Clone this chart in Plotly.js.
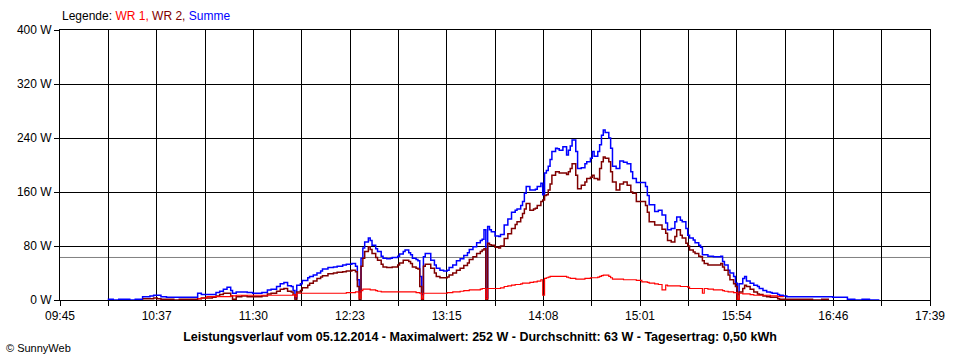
<!DOCTYPE html>
<html>
<head>
<meta charset="utf-8">
<script src="https://cdn.plot.ly/plotly-3.0.1.min.js"></script>
<style>
  html, body { margin: 0; padding: 0; background: #ffffff; }
  #chart { width: 960px; height: 360px; }
</style>
</head>
<body>
<div id="chart"></div>
<script>
// ---- data ----
const times = [
  "10:11","10:14","10:17","10:20","10:23","10:26","10:29","10:30","10:32","10:34",
  "10:36","10:38","10:40","10:43","10:47","10:50","10:54","10:59","11:00","11:02",
  "11:05","11:08","11:10","11:12","11:14","11:16","11:18","11:19","11:21","11:24",
  "11:27","11:30","11:32","11:35","11:38","11:40","11:43","11:45","11:47","11:49",
  "11:51","11:52","11:53","11:54","11:56","11:57","12:00","12:01","12:03","12:05",
  "12:07","12:08","12:11","12:14","12:16","12:19","12:21","12:24","12:26","12:27",
  "12:28","12:29","12:30","12:31","12:33","12:34","12:35","12:37","12:38","12:40",
  "12:41","12:43","12:45","12:46","12:49","12:50","12:52","12:53","12:55","12:56",
  "12:57","12:59","13:00","13:01","13:02","13:03","13:04","13:07","13:09","13:10",
  "13:12","13:14","13:16","13:17","13:19","13:21","13:23","13:25","13:27","13:28",
  "13:30","13:32","13:34","13:35","13:36","13:37","13:38","13:39","13:40","13:42",
  "13:44","13:45","13:47","13:49","13:51","13:53","13:54","13:56","13:57","13:58",
  "13:59","14:01","14:03","14:04","14:05","14:07","14:08","14:09","14:10","14:11",
  "14:12","14:13","14:15","14:16","14:17","14:19","14:21","14:22","14:23","14:24",
  "14:26","14:27","14:29","14:31","14:32","14:34","14:35","14:36","14:38","14:39",
  "14:40","14:41","14:42","14:44","14:45","14:46","14:48","14:50","14:52","14:54",
  "14:56","14:57","14:59","15:02","15:04","15:05","15:06","15:09","15:11","15:13",
  "15:15","15:16","15:18","15:20","15:21","15:23","15:24","15:26","15:27","15:28",
  "15:30","15:31","15:33","15:34","15:35","15:36","15:38","15:39","15:41","15:43",
  "15:45","15:46","15:47","15:49","15:50","15:52","15:53","15:54","15:55","15:57",
  "15:58","15:59","16:01","16:03","16:05","16:06","16:08","16:10","16:12","16:13",
  "16:16","16:17","16:19","16:21","16:27","16:35","16:40","16:44","16:46","16:50",
  "16:54","16:58","17:02","17:06","17:11"
];
const wr1 = [
  null,null,null,null,null,null,null,null,null,null,
  null,null,null,null,null,null,null,null,2,3,
  5,5,5,5,5,5,6,6,7,7,
  7,7,7,7,7,7,7,7,7,7,
  7,8,5,10,10,10,10,10,10,10,
  10,10,10,10,10,10,11,11,12,12,
  3,14,16,16,16,15,15,14,13,12,
  12,12,12,12,12,12,12,12,12,12,
  12,11,11,10,2,10,10,10,10,10,
  10,10,11,11,12,12,13,14,14,15,
  15,15,16,17,17,2,17,17,17,17,
  17,18,20,21,22,23,23,24,25,25,
  25,26,27,27,28,30,7,32,33,34,
  35,35,35,35,35,35,34,33,32,32,
  31,31,31,32,32,33,33,33,34,35,
  36,37,37,35,33,31,31,31,30,30,
  30,30,29,27,27,26,25,24,23,15,
  22,21,21,21,21,20,20,20,19,17,
  17,17,17,17,10,17,16,16,15,15,
  15,14,13,12,12,11,11,1,10,9,
  9,9,8,7,7,7,7,7,6,6,
  5,5,4,null,null,null,null,null,null,null,
  null,null,null,null,null
];
const wr2 = [
  null,null,null,null,null,null,null,2,2,2,
  3,2,1,1,0,1,1,1,2,3,
  3,4,6,8,10,10,6,1,5,6,
  5,5,5,6,9,10,13,16,17,13,
  12,8,0,12,14,18,22,25,28,32,
  34,36,39,40,41,42,43,44,42,20,
  0,50,62,72,79,75,69,63,59,53,
  49,48,48,49,52,55,59,59,57,54,
  49,47,46,20,0,50,53,47,40,35,
  33,33,34,37,40,44,47,51,55,60,
  64,69,72,74,76,0,84,82,81,78,
  77,80,91,98,106,112,116,122,128,135,
  143,133,135,136,140,146,148,155,156,163,
  172,185,190,190,188,188,186,190,195,202,
  185,165,170,175,180,182,185,180,178,195,
  205,212,210,205,190,175,163,172,175,170,
  160,158,146,146,140,130,116,111,111,105,
  99,88,86,94,104,96,92,84,80,74,
  71,69,65,64,58,54,52,52,52,52,
  54,49,44,37,30,24,20,0,12,17,
  22,20,16,12,9,8,6,5,4,4,
  2,1,1,1,1,0,1,1,null,null,
  null,null,null,null,null
];
const summe = [
  1,0,1,1,0,1,1,5,5,6,
  7,7,5,4,4,4,4,4,10,8,
  8,8,11,13,16,19,14,10,12,12,
  11,10,10,11,15,16,20,24,26,21,
  20,14,3,22,24,29,33,35,37,40,
  43,46,48,49,50,52,53,54,50,30,
  12,62,77,86,92,88,81,76,72,65,
  62,61,62,63,65,68,72,74,70,67,
  62,60,58,35,8,64,69,59,52,47,
  44,43,44,48,52,58,61,66,70,75,
  79,85,88,90,104,3,109,104,101,95,
  94,97,111,120,130,133,135,140,146,158,
  168,163,163,164,168,173,156,188,192,198,
  208,220,225,224,222,227,215,222,228,237,
  220,195,196,202,205,210,220,213,220,230,
  244,252,248,240,225,198,195,206,204,202,
  190,180,174,174,168,155,141,131,133,126,
  114,104,106,116,123,118,116,106,96,92,
  89,85,81,78,67,67,65,65,64,64,
  65,57,52,44,40,35,25,8,24,32,
  35,28,25,22,20,17,14,12,11,10,
  8,7,6,5,5,5,5,5,4,4,
  1,0,1,0,1
];
const xTickLabels = ["09:45","10:37","11:30","12:23","13:15","14:08","15:01","15:54","16:46","17:39"];
const yTickValues = [0, 80, 160, 240, 320, 400];
const averageW = 63;
const seriesNames = ["WR 1", "WR 2", "Summe"];
const titleText = "Leistungsverlauf vom 05.12.2014 - Maximalwert: 252 W - Durchschnitt: 63 W - Tagesertrag: 0,50 kWh";
const creditText = "© SunnyWeb";

// ---- drawing ----
const toMin = s => { const p = s.split(":"); return (+p[0]) * 60 + (+p[1]); };
const x = times.map(toMin);
const xStart = toMin(xTickLabels[0]);
const xEnd = toMin(xTickLabels[xTickLabels.length - 1]);
const nSeg = (xTickLabels.length - 1) * 2;
const tickvals = [], ticktext = [];
for (let k = 0; k <= nSeg; k++) {
  tickvals.push(xStart + (xEnd - xStart) * k / nSeg);
  ticktext.push(k % 2 === 0 ? xTickLabels[k / 2] : "");
}

const FONT = "'Liberation Sans', Arial, sans-serif";
const colors = { wr1: "#ff0000", wr2: "#800000", summe: "#0000ff" };

const traces = [
  { x: x, y: summe, name: seriesNames[2], type: "scatter", mode: "lines",
    line: { color: colors.summe, width: 1.5, shape: "hv" }, connectgaps: false },
  { x: x, y: wr2, name: seriesNames[1], type: "scatter", mode: "lines",
    line: { color: colors.wr2, width: 1.5, shape: "hv" }, connectgaps: false },
  { x: x, y: wr1, name: seriesNames[0], type: "scatter", mode: "lines",
    line: { color: colors.wr1, width: 1.2, shape: "hv" }, connectgaps: false }
];

const legendHtml = "Legende: " +
  "<span style='color:" + colors.wr1 + "'>" + seriesNames[0] + ",</span> " +
  "<span style='color:" + colors.wr2 + "'>" + seriesNames[1] + ",</span> " +
  "<span style='color:" + colors.summe + "'>" + seriesNames[2] + "</span>";

const layout = {
  width: 960, height: 360,
  margin: { l: 60, r: 30, t: 30, b: 60 },
  paper_bgcolor: "#ffffff", plot_bgcolor: "#ffffff",
  showlegend: false,
  font: { family: FONT, size: 12, color: "#000000" },
  title: {
    text: "<b>" + titleText + "</b>",
    font: { family: FONT, size: 12.5, color: "#000000" },
    xref: "container", x: 0.5, xanchor: "center",
    yref: "container", y: 1 - 337 / 360, yanchor: "middle"
  },
  xaxis: {
    range: [xStart, xEnd], tickmode: "array", tickvals: tickvals, ticktext: ticktext,
    showgrid: true, gridcolor: "#000000", gridwidth: 1,
    zeroline: false, showline: true, linecolor: "#000000", linewidth: 1, mirror: true,
    ticks: "outside", ticklen: 5, tickcolor: "#000000", tickwidth: 1,
    tickfont: { family: FONT, size: 12, color: "#000000" },
    fixedrange: true
  },
  yaxis: {
    range: [0, 400], tickmode: "array", tickvals: yTickValues,
    ticktext: yTickValues.map(v => v + " W"),
    showgrid: true, gridcolor: "#000000", gridwidth: 1,
    zeroline: false, showline: true, linecolor: "#000000", linewidth: 1, mirror: true,
    ticks: "outside", ticklen: 5, tickcolor: "#000000", tickwidth: 1,
    tickfont: { family: FONT, size: 12, color: "#000000" },
    fixedrange: true
  },
  shapes: [
    { type: "line", xref: "paper", x0: 0, x1: 1, yref: "y", y0: averageW, y1: averageW,
      line: { color: "#808080", width: 1 }, layer: "below" }
  ],
  annotations: [
    { text: legendHtml, xref: "paper", yref: "paper", x: 0, y: 1,
      xanchor: "left", yanchor: "bottom", yshift: 5, xshift: 0, showarrow: false,
      font: { family: FONT, size: 12, color: "#000000" } },
    { text: creditText, xref: "paper", yref: "paper", x: 0, y: 0,
      xanchor: "left", yanchor: "middle", xshift: -56, yshift: -48, showarrow: false,
      font: { family: FONT, size: 11, color: "#000000" } }
  ]
};

Plotly.newPlot("chart", traces, layout, { staticPlot: true, displayModeBar: false });
</script>
</body>
</html>
